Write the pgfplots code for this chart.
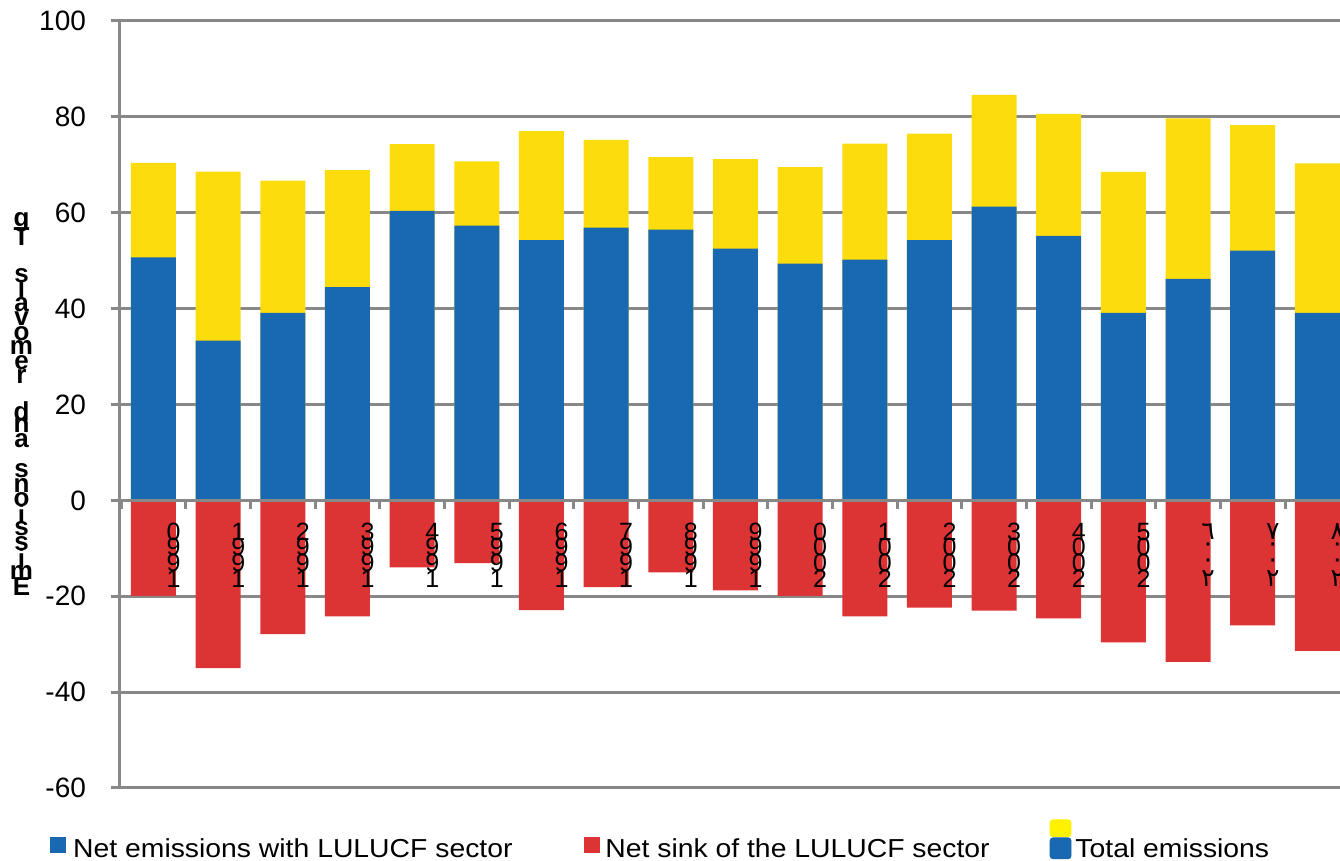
\documentclass[border=0pt]{standalone}
\usepackage{fontspec}
\setmainfont{Liberation Sans}
\newfontfamily\arabicfont[Script=Arabic]{DejaVu Sans}
\usepackage{graphicx}
\usepackage{pgfplots}
\pgfplotsset{compat=1.18}

\definecolor{cblue}{RGB}{24,105,177}
\definecolor{cyellow}{RGB}{253,220,13}
\definecolor{cred}{RGB}{220,51,53}
\definecolor{cgrid}{RGB}{136,136,136}

\newdimen\vadv
\newcommand\vc[1]{\vbox to \vadv{\vss\hbox to 0pt{\hss#1\hss}\vss}}
\newcommand\yr[4]{\vbox{\offinterlineskip\vadv=7.85pt\vc{#4}\vc{#3}\vc{#2}\vc{#1}}}
\newcommand\aryr[4]{\vbox{\offinterlineskip\vadv=7.85pt\arabicfont\vc{#4}\vc{#3}\vc{#2}\vc{#1}}}
\newcommand\ytitle{\vbox{\offinterlineskip\vadv=7.25pt\fontsize{13}{13}\bfseries\selectfont
 \vc{g}\vc{T}\vskip12pt
 \vc{s}\vc{l}\vc{a}\vc{v}\vc{o}\vc{m}\vc{e}\vc{r}\vskip10pt
 \vc{d}\vc{n}\vc{a}\vskip8pt
 \vc{s}\vc{n}\vc{o}\vc{i}\vc{s}\vc{s}\vc{i}\vc{m}\vc{E}}}
\newcommand\lt[1]{\scalebox{1.09}[1]{#1}}

\pgfplotsset{
  layers/barsover/.define layer set={
    axis background,axis grid,main,axis ticks,axis lines,axis tick labels,axis descriptions,axis foreground
  }{/pgfplots/layers/standard},
}

% idx (1990 = 0), net emissions with LULUCF, total emissions, net sink
\pgfplotstableread{
idx net total sink
0  50.7 70.4 -19.9
1  33.3 68.6 -35.0
2  39.1 66.7 -27.9
3  44.5 68.9 -24.2
4  60.4 74.3 -14.0
5  57.3 70.7 -13.1
6  54.3 77.0 -22.9
7  56.9 75.2 -18.1
8  56.5 71.6 -15.0
9  52.5 71.2 -18.8
10 49.4 69.5 -19.9
11 50.2 74.4 -24.2
12 54.3 76.5 -22.4
13 61.3 84.6 -23.0
14 55.2 80.6 -24.6
15 39.1 68.5 -29.6
16 46.2 79.7 -33.7
17 52.1 78.3 -26.1
18 39.1 70.3 -31.4
}\datatable

\begin{document}
\begin{tikzpicture}
\begin{axis}[
  set layers=barsover,
  scale only axis, width=610pt, height=383.5pt,
  xmin=-0.518, xmax=18.35, ymin=-60, ymax=100,
  ybar, bar width=22.5pt, bar shift=0pt,
  axis x line*=middle, axis y line*=left,
  hide obscured x ticks=false, hide obscured y ticks=false,
  axis line style={cgrid, line width=1.5pt},
  ytick={-60,-40,...,100},
  ymajorgrids, grid style={cgrid, line width=1.5pt},
  tick align=outside, major tick length=4.5pt,
  tick style={cgrid, line width=1.5pt},
  xtick={-0.5,0.5,...,17.5},
  xticklabels={{\yr1990},{\yr1991},{\yr1992},{\yr1993},{\yr1994},{\yr1995},{\yr1996},{\yr1997},{\yr1998},{\yr1999},{\yr2000},{\yr2001},{\yr2002},{\yr2003},{\yr2004},{\yr2005},{\aryr ٢٠٠٦},{\aryr ٢٠٠٧},{\aryr ٢٠٠٨}},
  xticklabel style={anchor=north, inner sep=0pt, xshift=26.2pt, yshift=-7pt, font=\fontsize{12.5}{13}\selectfont},
  yticklabel style={font=\fontsize{14}{14}\selectfont, xshift=-9pt},
  /pgf/number format/assume math mode=true,
  legend columns=3,
  legend style={draw=none, fill=none, font=\fontsize{13}{14}\selectfont,
    at={(rel axis cs:0,0)}, anchor=north west, xshift=-38pt, yshift=-13.5pt,
    /tikz/column 2/.style={column sep=33.5pt},
    /tikz/column 4/.style={column sep=28pt}},
  legend cell align=left,
  legend entries={\lt{Net emissions with LULUCF sector},\lt{Net sink of the LULUCF sector},\lt{Total emissions}},
]
\addlegendimage{legend image code/.code={\fill[cblue] (0pt,-1.8pt) rectangle (7.5pt,5.7pt);\path (9pt,0pt);}}
\addlegendimage{legend image code/.code={\fill[cred] (0pt,-1.8pt) rectangle (7.5pt,5.7pt);\path (8.5pt,0pt);}}
\addlegendimage{legend image code/.code={\fill[yellow, rounded corners=1.5pt] (0pt,6.2pt) rectangle (10.5pt,14.7pt);\fill[cblue, rounded corners=1.5pt] (0pt,-4.8pt) rectangle (10.5pt,5.7pt);}}
\addplot[forget plot, fill=cyellow, draw=none] table[x=idx,y=total]{\datatable};
\addplot[forget plot, fill=cblue, draw=none] table[x=idx,y=net]{\datatable};
\addplot[forget plot, fill=cred, draw=none] table[x=idx,y=sink]{\datatable};
\coordinate (pl) at (rel axis cs:0,0);
\coordinate (pr) at (rel axis cs:1,1);
\coordinate (ymid) at (rel axis cs:0,0.5);
\end{axis}
\node[inner sep=0pt] at ([xshift=-49.25pt]ymid) {\ytitle};
\pgfresetboundingbox
\path ([shift={(-60pt,-36.5pt)}]pl) rectangle ([shift={(0pt,10.5pt)}]pr);
\end{tikzpicture}
\end{document}
